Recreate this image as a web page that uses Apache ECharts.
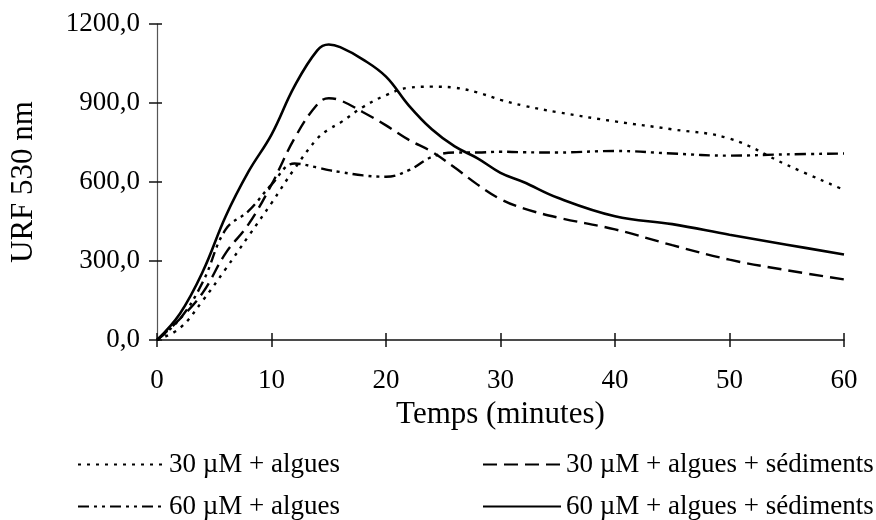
<!DOCTYPE html>
<html>
<head>
<meta charset="utf-8">
<script src="https://cdn.jsdelivr.net/npm/echarts@6/dist/echarts.min.js"></script>
<style>
html,body{margin:0;padding:0;background:#fff;}
#chart{width:876px;height:520px;}
</style>
</head>
<body>
<div id="chart"></div>
<script>
// Time in minutes
const times = [0, 2, 4, 6, 8, 10, 12, 14, 15, 16, 18, 20, 22, 24, 26, 28, 30, 32, 35, 40, 45, 50, 55, 60];
// URF 530 nm
const s30Algues      = [0, 45, 150, 270, 395, 520, 650, 765, 800, 825, 885, 930, 958, 962, 958, 940, 912, 890, 865, 830, 800, 765, 665, 570];
const s30AlguesSed   = [0, 80, 180, 330, 440, 590, 765, 895, 918, 910, 865, 815, 760, 715, 655, 590, 535, 500, 465, 420, 360, 305, 265, 230];
const s60Algues      = [0, 80, 220, 420, 490, 590, 670, 655, 645, 638, 625, 620, 645, 695, 712, 712, 715, 713, 712, 718, 708, 700, 705, 708];
const s60AlguesSed   = [0, 100, 260, 470, 640, 780, 963, 1100, 1122, 1112, 1065, 1000, 890, 800, 735, 690, 635, 600, 540, 470, 440, 400, 362, 325];
const seriesNames = ['30 µM + algues', '30 µM + algues + sédiments', '60 µM + algues', '60 µM + algues + sédiments'];
const xTicks = [0, 10, 20, 30, 40, 50, 60];
const yTicks = [0, 300, 600, 900, 1200];

const pairs = arr => times.map((t, i) => [t, arr[i]]);
const FONT = 'Liberation Serif';
const dashes = [[3, 6], [14, 7], [11, 5, 3, 5, 3, 5], 'solid'];
const values = [s30Algues, s30AlguesSed, s60Algues, s60AlguesSed];

const chart = echarts.init(document.getElementById('chart'));
const xBase = {type: 'value', min: xTicks[0], max: xTicks[xTicks.length - 1], interval: 10, gridIndex: 0};
const yBase = {type: 'value', min: yTicks[0], max: yTicks[yTicks.length - 1], interval: 300, gridIndex: 0};

const legendPos = [[77, 451, 86], [482, 451, 78], [77, 493, 86], [482, 493, 78]];

chart.setOption({
  backgroundColor: '#fff',
  animation: false,
  grid: {left: 153, right: 32, top: 24, bottom: 180, containLabel: false},
  xAxis: [
    Object.assign({}, xBase, {
      position: 'bottom',
      axisLine: {show: true, lineStyle: {color: '#111', width: 1.5}},
      axisTick: {show: true, inside: false, length: 7, lineStyle: {color: '#111', width: 1.5}},
      axisLabel: {show: true, margin: 27, color: '#000', fontFamily: FONT, fontSize: 27},
      splitLine: {show: false},
      name: 'Temps (minutes)', nameLocation: 'middle', nameGap: 59,
      nameTextStyle: {color: '#000', fontFamily: FONT, fontSize: 31}
    }),
    Object.assign({}, xBase, {
      position: 'bottom', offset: 0,
      axisLine: {show: false},
      axisTick: {show: true, inside: true, length: 7, lineStyle: {color: '#111', width: 1.5}},
      axisLabel: {show: false}, splitLine: {show: false}
    })
  ],
  yAxis: [
    Object.assign({}, yBase, {
      position: 'left',
      axisLine: {show: true, lineStyle: {color: '#555', width: 1.2}},
      axisTick: {show: true, inside: false, length: 8, lineStyle: {color: '#111', width: 1.5}},
      axisLabel: {show: true, margin: 17, color: '#000', fontFamily: FONT, fontSize: 27,
        formatter: v => v.toFixed(1).replace('.', ',')},
      splitLine: {show: false},
      name: 'URF 530 nm', nameLocation: 'middle', nameGap: 118,
      nameTextStyle: {color: '#000', fontFamily: FONT, fontSize: 31}
    }),
    Object.assign({}, yBase, {
      position: 'left', offset: 0,
      axisLine: {show: false},
      axisTick: {show: true, inside: true, length: 5, lineStyle: {color: '#111', width: 1.5}},
      axisLabel: {show: false}, splitLine: {show: false}
    })
  ],
  legend: seriesNames.map((n, i) => ({
    data: [n], left: legendPos[i][0], top: legendPos[i][1], padding: 0,
    itemWidth: legendPos[i][2], itemHeight: 14, itemGap: 0,
    itemStyle: {opacity: 0},
    textStyle: {color: '#000', fontFamily: FONT, fontSize: 27},
    selectedMode: false
  })),
  series: values.map((arr, i) => ({
    name: seriesNames[i], type: 'line', xAxisIndex: 0, yAxisIndex: 0,
    data: pairs(arr), smooth: 0.4, symbol: 'none',
    lineStyle: {color: '#000', width: i === 3 ? 2.6 : 2.4, type: dashes[i]},
    itemStyle: {color: '#000'}
  }))
});
</script>
</body>
</html>
